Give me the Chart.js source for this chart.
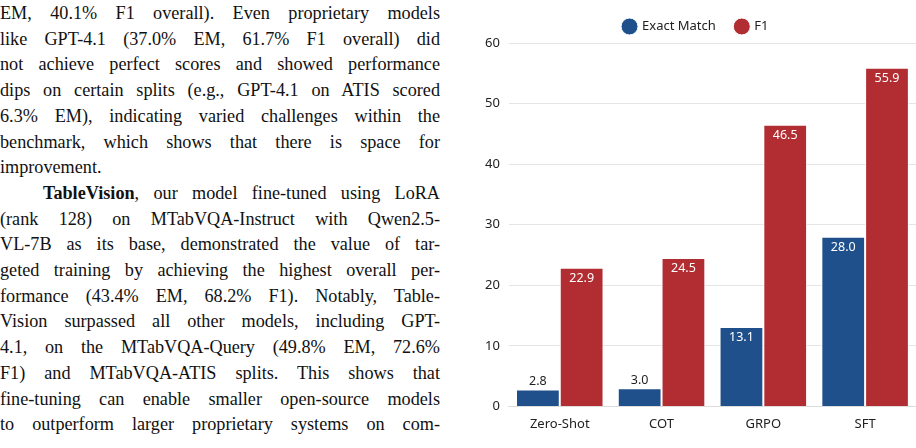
<!DOCTYPE html>
<html><head><meta charset="utf-8">
<script src="https://cdn.jsdelivr.net/npm/chart.js@4"></script>
<style>
body{margin:0;width:916px;height:448px;overflow:hidden;background:#fff;position:relative}
#text{position:absolute;left:0;top:1px;width:440px;font-family:"Liberation Serif",serif;font-size:18.2px;line-height:25.7px;color:#111}
#text div{text-align:justify;text-align-last:justify;white-space:nowrap}
#text div.last{text-align-last:left}
#wrap{position:absolute;left:476px;top:0;width:440px;height:434px}
</style></head><body>
<div id="text">
<div>EM, 40.1% F1 overall). Even proprietary models</div>
<div>like GPT-4.1 (37.0% EM, 61.7% F1 overall) did</div>
<div>not achieve perfect scores and showed performance</div>
<div>dips on certain splits (e.g., GPT-4.1 on ATIS scored</div>
<div>6.3% EM), indicating varied challenges within the</div>
<div>benchmark, which shows that there is space for</div>
<div class="last">improvement.</div>
<div>&nbsp;&nbsp;&nbsp;<b>TableVision</b>, our model fine-tuned using LoRA</div>
<div>(rank 128) on MTabVQA-Instruct with Qwen2.5-</div>
<div>VL-7B as its base, demonstrated the value of tar-</div>
<div>geted training by achieving the highest overall per-</div>
<div>formance (43.4% EM, 68.2% F1). Notably, Table-</div>
<div>Vision surpassed all other models, including GPT-</div>
<div>4.1, on the MTabVQA-Query (49.8% EM, 72.6%</div>
<div>F1) and MTabVQA-ATIS splits. This shows that</div>
<div>fine-tuning can enable smaller open-source models</div>
<div>to outperform larger proprietary systems on com-</div>
</div>
<div id="wrap"><canvas id="c"></canvas></div>
<script>
// data
const categories = ['Zero-Shot', 'COT', 'GRPO', 'SFT'];
const exactMatch = [2.8, 3.0, 13.1, 28.0];
const f1 = [22.9, 24.5, 46.5, 55.9];
const yTicks = [0, 10, 20, 30, 40, 50, 60];

const FONT = 'Noto Sans';

// label nilai: kecil di atas bar, lainnya di dalam bar (putih)
const valueLabels = {
  id: 'valueLabels',
  afterDatasetsDraw(chart) {
    const ctx = chart.ctx;
    ctx.save();
    ctx.font = '12.5px ' + FONT;
    ctx.textAlign = 'center';
    chart.data.datasets.forEach((ds, i) => {
      chart.getDatasetMeta(i).data.forEach((bar, j) => {
        const v = ds.data[j];
        const h = bar.base - bar.y;
        if (h < 25) {
          ctx.fillStyle = '#222';
          ctx.textBaseline = 'bottom';
          ctx.fillText(v.toFixed(1), bar.x, bar.y - 2);
        } else {
          ctx.fillStyle = '#fff';
          ctx.textBaseline = 'top';
          ctx.fillText(v.toFixed(1), bar.x, bar.y + 4);
        }
      });
    });
    ctx.restore();
  }
};

new Chart(document.getElementById('c'), {
  type: 'bar',
  data: {
    labels: categories,
    datasets: [
      { label: 'Exact Match', data: exactMatch, backgroundColor: '#20508c', borderColor: '#ffffff', borderWidth: 1, barPercentage: 1, categoryPercentage: 0.86 },
      { label: 'F1', data: f1, backgroundColor: '#b22d31', borderColor: '#ffffff', borderWidth: 1, barPercentage: 1, categoryPercentage: 0.86 }
    ]
  },
  options: {
    responsive: true,
    maintainAspectRatio: false,
    animation: false,
    layout: { padding: { top: 0, right: 0, bottom: 0 } },
    plugins: {
      legend: {
        labels: { usePointStyle: true, pointStyle: 'circle', boxWidth: 12, boxHeight: 12, padding: 20, color: '#222', font: { family: FONT, size: 13 } }
      },
      tooltip: { enabled: false }
    },
    scales: {
      x: {
        grid: { display: false },
        border: { color: '#ddd' },
        ticks: { color: '#222', padding: 2, font: { family: FONT, size: 13 } }
      },
      y: {
        min: 0, max: 60,
        afterBuildTicks: axis => { axis.ticks = yTicks.map(v => ({ value: v })); },
        grid: { color: '#e5e5e5', drawTicks: false },
        border: { display: false },
        ticks: { color: '#222', padding: 9, font: { family: FONT, size: 13 } }
      }
    }
  },
  plugins: [valueLabels]
});
</script>
</body></html>
